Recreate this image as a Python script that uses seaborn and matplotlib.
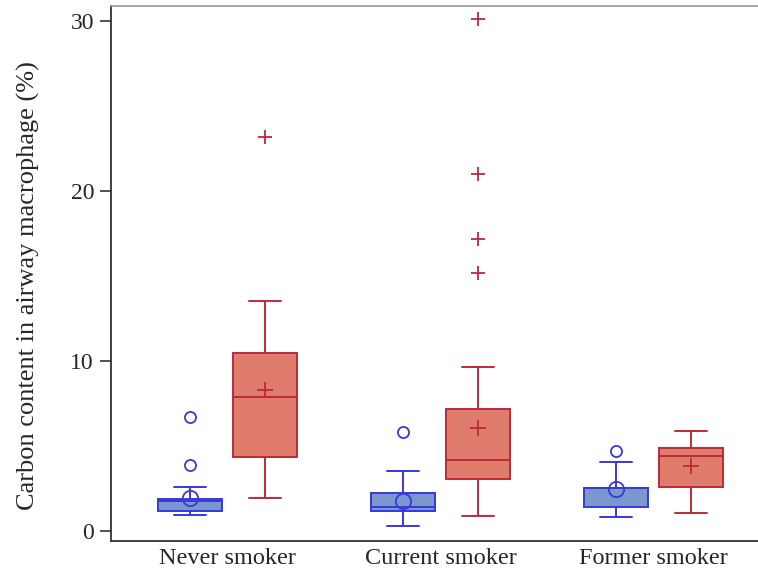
import numpy as np
import matplotlib
matplotlib.use("Agg")
import matplotlib.pyplot as plt
import seaborn as sns

# Box summary values (percent carbon content)
groups = ["Never smoker", "Current smoker", "Former smoker"]

# first series (blue, circles)
blue_lo = [0.94, 0.29, 0.82]
blue_q1 = [1.19, 1.19, 1.43]
blue_med = [1.76, 1.39, 2.50]
blue_q3 = [1.88, 2.25, 2.55]
blue_hi = [2.61, 3.55, 4.08]
blue_mean = [1.94, 1.78, 2.45]
blue_out = [[3.9, 6.7], [5.81], [4.71]]

# second series (red, plus signs)
red_lo = [1.92, 0.90, 1.04]
red_q1 = [4.34, 3.08, 2.57]
red_med = [7.88, 4.16, 4.43]
red_q3 = [10.49, 7.19, 4.88]
red_hi = [13.51, 9.63, 5.86]
red_mean = [8.29, 6.08, 3.81]
red_out = [[23.18], [15.16, 17.19, 21.02, 30.14], []]

sns.set_style("ticks")
plt.rcParams["font.family"] = ["Liberation Serif", "DejaVu Serif"]

BLUE_EDGE = "#3838dc"
BLUE_FILL = "#7b97cf"
RED_EDGE = "#c0283c"
RED_FILL = "#e07c6c"


def make_stats(lo, q1, med, q3, hi, mean, out):
    stats = []
    for i in range(len(lo)):
        stats.append(dict(whislo=lo[i], q1=q1[i], med=med[i], q3=q3[i],
                          whishi=hi[i], mean=mean[i], fliers=out[i]))
    return stats


fig = plt.figure(figsize=(7.58, 5.70), dpi=100)
ax = fig.add_axes([0.146, 0.051, 0.854, 0.9385])

x = np.arange(len(groups))
offset = 0.176
width = 0.30

for stats, pos, edge, fill, mean_mk, out_mk, ms_mean, ms_out in [
    (make_stats(blue_lo, blue_q1, blue_med, blue_q3, blue_hi, blue_mean, blue_out),
     x - offset, BLUE_EDGE, BLUE_FILL, "o", "o", 11, 8),
    (make_stats(red_lo, red_q1, red_med, red_q3, red_hi, red_mean, red_out),
     x + offset, RED_EDGE, RED_FILL, "+", "+", 12, 10),
]:
    ax.bxp(stats, positions=pos, widths=width, capwidths=width / 2,
           patch_artist=True, showmeans=True, showfliers=True,
           boxprops=dict(facecolor=fill, edgecolor=edge, linewidth=1.4),
           medianprops=dict(color=edge, linewidth=1.4),
           whiskerprops=dict(color=edge, linewidth=1.4),
           capprops=dict(color=edge, linewidth=1.4),
           meanprops=dict(marker=mean_mk, markersize=ms_mean, markerfacecolor="none",
                          markeredgecolor=edge, markeredgewidth=1.3),
           flierprops=dict(marker=out_mk, markersize=ms_out, markerfacecolor="none",
                           markeredgecolor=edge, markeredgewidth=1.3))

ax.set_xlim(-0.549, 2.49)
ax.set_ylim(-0.59, 30.88)
ax.set_xticks(x)
ax.set_xticklabels(groups, fontsize=17.5)
ax.set_yticks([0, 10, 20, 30])
ax.set_yticklabels(["0", "10", "20", "30"], fontsize=17)
ax.tick_params(axis="x", length=0, pad=5)
ax.tick_params(axis="y", length=8, width=1.2, color="#333333", pad=4)
ax.set_ylabel("Carbon content in airway macrophage (%)", fontsize=19)
ax.yaxis.set_label_coords(-0.109, 0.478)

for side in ["left", "bottom"]:
    ax.spines[side].set_color("#333333")
    ax.spines[side].set_linewidth(1.3)
ax.spines["top"].set_color("#999999")
ax.spines["top"].set_linewidth(1.2)
ax.spines["right"].set_visible(False)

fig.savefig("out.png", dpi=100)
